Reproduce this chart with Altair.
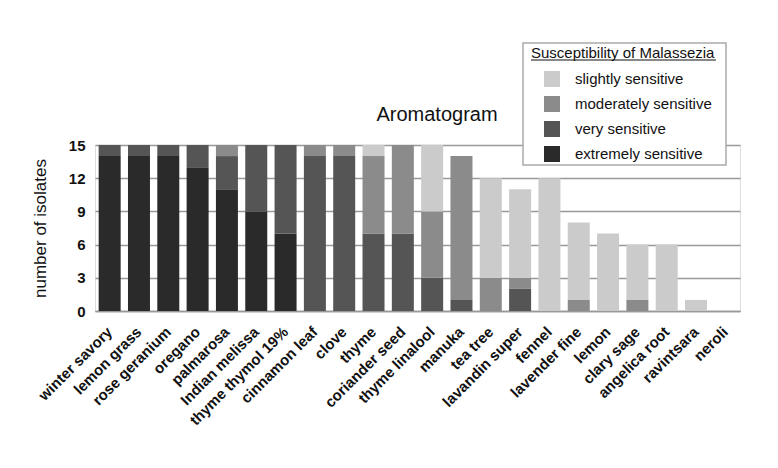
import altair as alt
import pandas as pd

oils = ["winter savory", "lemon grass", "rose geranium", "oregano", "palmarosa",
        "Indian  melissa", "thyme thymol 19%", "cinnamon leaf", "clove", "thyme",
        "coriander seed", "thyme linalool", "manuka", "tea tree", "lavandin super",
        "fennel", "lavender fine", "lemon", "clary sage", "angelica root",
        "ravintsara", "neroli"]
extremely = [14, 14, 14, 13, 11, 9, 7, 0, 0, 0, 0, 0, 0, 0, 0, 0, 0, 0, 0, 0, 0, 0]
very =      [1, 1, 1, 2, 3, 6, 8, 14, 14, 7, 7, 3, 1, 0, 2, 0, 0, 0, 0, 0, 0, 0]
moderately = [0, 0, 0, 0, 1, 0, 0, 1, 1, 7, 8, 6, 13, 3, 1, 0, 1, 0, 1, 0, 0, 0]
slightly =  [0, 0, 0, 0, 0, 0, 0, 0, 0, 1, 0, 6, 0, 9, 8, 12, 7, 7, 5, 6, 1, 0]

levels = ["slightly sensitive", "moderately sensitive", "very sensitive", "extremely sensitive"]
colors = ["#cbcbcb", "#8b8b8b", "#555555", "#2a2a2a"]
y_ticks = [0, 3, 6, 9, 12, 15]

series = {"extremely sensitive": extremely, "very sensitive": very,
          "moderately sensitive": moderately, "slightly sensitive": slightly}
stack_rank = {"extremely sensitive": 0, "very sensitive": 1,
              "moderately sensitive": 2, "slightly sensitive": 3}
rows = []
for lvl, vals in series.items():
    for oil, v in zip(oils, vals):
        rows.append({"oil": oil, "level": lvl, "n": v, "rank": stack_rank[lvl]})
df = pd.DataFrame(rows)

FONT = "Liberation Sans"
W, H = 645, 166

bars = alt.Chart(df).mark_bar(size=22).encode(
    x=alt.X("oil:N", sort=oils, title=None,
            axis=alt.Axis(labelAngle=-45, labelAlign="right", labelBaseline="middle",
                          labelFont=FONT, labelFontSize=15, labelFontWeight="bold",
                          labelColor="#111", ticks=False, domainColor="#999",
                          domainWidth=1.5, labelPadding=18)),
    y=alt.Y("n:Q", stack="zero", title="number of isolates",
            scale=alt.Scale(domain=[0, 15], nice=False),
            axis=alt.Axis(values=y_ticks, grid=True, gridColor="#999", gridWidth=1.5,
                          domain=False, ticks=False, labelFont=FONT, labelFontSize=15,
                          labelFontWeight="bold", labelColor="#111", labelPadding=10,
                          titleFont=FONT, titleFontSize=17, titleFontWeight="normal",
                          titleColor="#111", titleX=-55, titleY=H / 2, titleAngle=-90,
                          titleAlign="center", titleBaseline="middle")),
    color=alt.Color("level:N", scale=alt.Scale(domain=levels, range=colors),
                    legend=alt.Legend(orient="none", legendX=449, legendY=-74,
                                      title=None, symbolType="square", symbolSize=256,
                                      symbolStrokeWidth=0, labelFont=FONT,
                                      labelFontSize=15, labelColor="#111",
                                      labelOffset=15, rowPadding=9, padding=0)),
    order=alt.Order("rank:Q", sort="ascending"),
)

box = alt.Chart(alt.Data(values=[{}])).mark_rect(
    fill="white", stroke="#aaa", strokeWidth=1.5
).encode(x=alt.value(428), x2=alt.value(631), y=alt.value(-102), y2=alt.value(20))

ltitle = alt.Chart(alt.Data(values=[{"t": "Susceptibility of Malassezia"}])).mark_text(
    align="left", baseline="alphabetic", font=FONT, fontSize=15, color="#111"
).encode(x=alt.value(436), y=alt.value(-87), text="t:N")

underline = alt.Chart(alt.Data(values=[{}])).mark_rule(color="#111", strokeWidth=1).encode(
    x=alt.value(436), x2=alt.value(621), y=alt.value(-85))

main_title = alt.Chart(alt.Data(values=[{"t": "Aromatogram"}])).mark_text(
    align="center", baseline="alphabetic", font=FONT, fontSize=20, color="#111"
).encode(x=alt.value(342), y=alt.value(-24), text="t:N")

chart = alt.layer(bars, box, ltitle, underline, main_title).properties(
    width=W, height=H,
    autosize=alt.AutoSizeParams(type="none"),
    padding={"left": 87, "top": 137, "right": 15, "bottom": 140},
).configure_view(stroke=None).configure(background="white")

chart.save("out.html", embed_options={"renderer": "svg", "actions": False})
